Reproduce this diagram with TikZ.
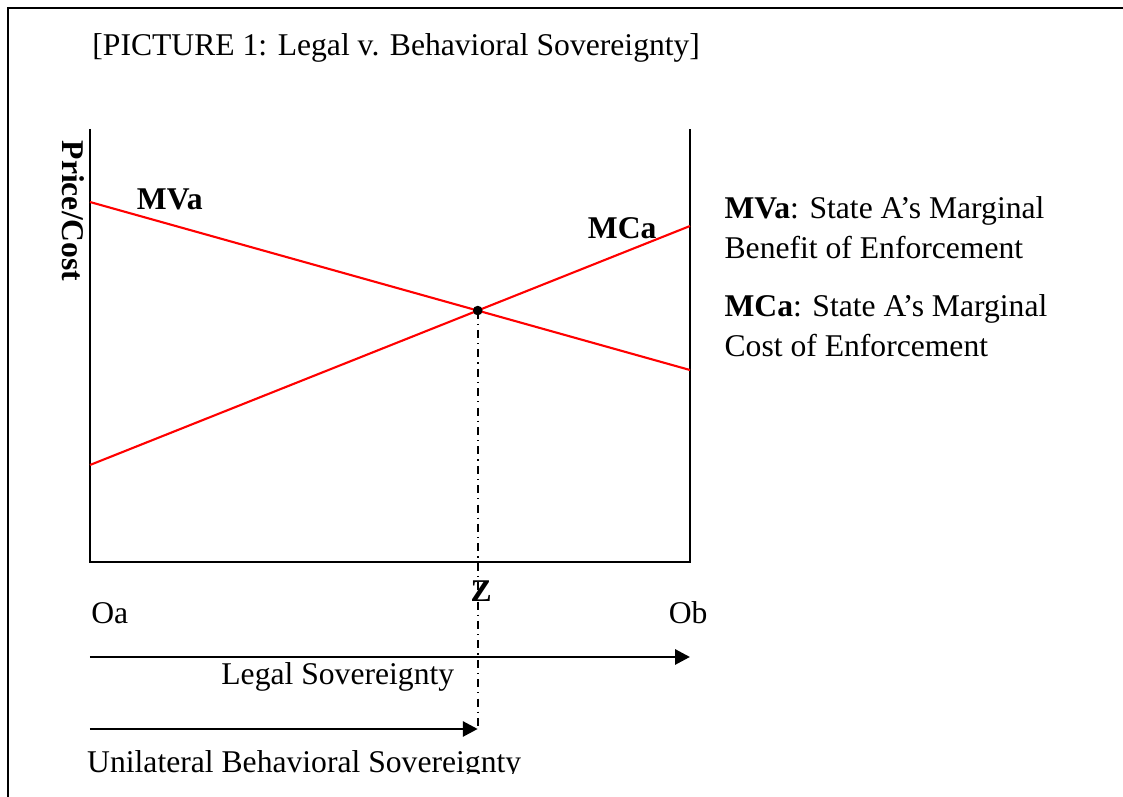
\documentclass[tikz,border=0pt]{standalone}
\usepackage{fontspec}
\setmainfont{Liberation Serif}
\usetikzlibrary{arrows.meta,positioning}

\begin{document}
\begin{tikzpicture}[
  txt/.style={font=\fontsize{15}{19}\selectfont, inner sep=0pt},
  lbl/.style={font=\fontsize{15}{19}\selectfont\bfseries, inner sep=0pt},
  curve/.style={red, line width=1pt},
  axis/.style={line width=1.4pt},
  dir/.style={line width=1.4pt, -{Triangle[length=7pt,width=7pt]}},
  dashdot/.style={line width=0.8pt, dash pattern=on 3.8pt off 2.4pt on 0.6pt off 2.4pt}
]
  \useasboundingbox (-1.5,-3.9) rectangle (17.217,9.367); %整幅图的边界
  \draw[line width=1.2pt] (-1.367,-3.95) -- (-1.367,9.233) -- (17.3,9.233);
  % 坐标轴
  \coordinate (O) at (0,0);
  \coordinate (B) at (10,0);
  \draw[axis] (0,7.217) -- (O) -- (B) -- (10,7.217);
  % 两条曲线
  \coordinate (mv1) at (0,6);
  \coordinate (mv2) at (10,3.2);
  \coordinate (mc1) at (0,1.617);
  \coordinate (mc2) at (10,5.6);
  \draw[curve] (mv1) -- (mv2);
  \draw[curve] (mc1) -- (mc2);
  \coordinate (E) at (intersection of mv1--mv2 and mc1--mc2);
  \fill (E) circle (0.08);
  % 下方两个箭头
  \coordinate (la) at (0,-1.583);
  \coordinate (lb) at (10,-1.583);
  \coordinate (ua) at (0,-2.783);
  \coordinate (ub) at (E |- ua);
  \draw[dashdot] (E) -- (ub);
  \draw[dir] (la) -- (lb);
  \draw[dir] (ua) -- (ub);
  % 文字
  \node[txt, anchor=base west] (title) at (0.033,8.45) {[PICTURE 1: Legal v. Behavioral Sovereignty]};
  \node[lbl, rotate=-90] (ylab) at (-0.28,5.85) {Price/Cost};
  \node[lbl] (mvlab) at (1.33,6.05) {MVa};
  \node[lbl] (mclab) at (8.87,5.57) {MCa};
  \node[lbl] (zlab) at (6.52,-0.48) {Z};
  \node[txt] (oa) at (0.33,-0.85) {Oa};
  \node[txt] (ob) at (9.97,-0.85) {Ob};
  \node[txt] (legal) at (4.13,-1.92) {Legal Sovereignty};
  \begin{scope}
    \clip (-1.5,-3.52) rectangle (17.217,-2.9); %底部文字被截断
    \node[txt, anchor=base] (uni) at (3.57,-3.5) {Unilateral Behavioral Sovereignty};
  \end{scope}
  \node[txt, anchor=north west, align=left] (keymv) at (10.57,6.1)
    {\textbf{MVa}: State A's Marginal\\Benefit of Enforcement};
  \node[txt, align=left, below=0.58 of keymv.south west, anchor=north west] (keymc)
    {\textbf{MCa}: State A's Marginal\\Cost of Enforcement};
\end{tikzpicture}
\end{document}
